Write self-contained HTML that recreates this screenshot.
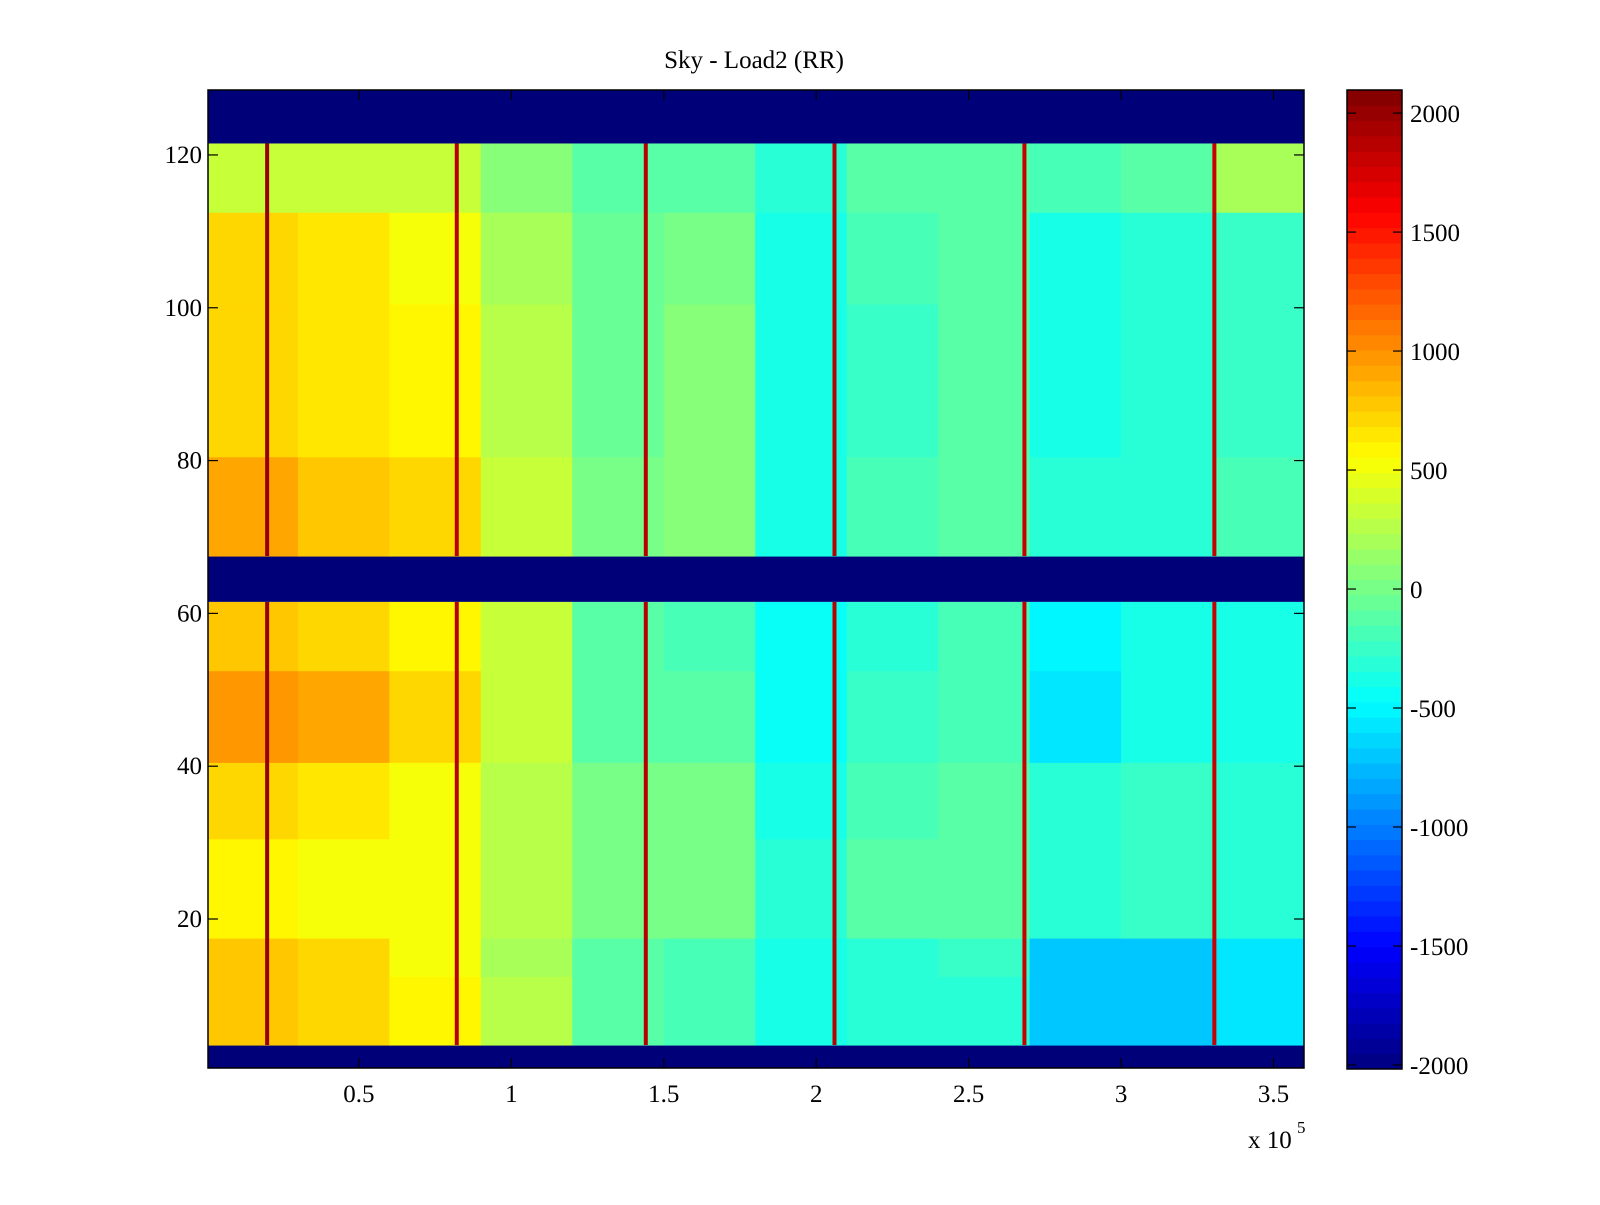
<!DOCTYPE html>
<html><head><meta charset="utf-8"><title>Sky - Load2 (RR)</title>
<style>
html,body{margin:0;padding:0;background:#fff;}
svg text{font-family:"Liberation Serif",serif;fill:#000;}
</style></head>
<body>
<svg id="chart" width="1600" height="1200" viewBox="0 0 1600 1200" xmlns="http://www.w3.org/2000/svg">
<rect width="1600" height="1200" fill="#fff"/>
<text x="754" y="68" font-size="25" text-anchor="middle">Sky - Load2 (RR)</text>
<g id="cells"></g>
<g id="lines"></g>
<g id="axes"></g>
<g id="cbar"></g>
</svg>
<script>
// ---- data ----
const xBlockEdges = [0, 0.3, 0.6, 0.9, 1.2, 1.5, 1.8, 2.1, 2.4, 2.7, 3.0, 3.3, 3.6];
const rowBandStart = [4, 13, 18, 31, 41, 53, 68, 81, 101, 113];
const rowBandEnd   = [12, 17, 30, 40, 52, 61, 80, 100, 112, 121];
const band0 = [800,700,600,250,-100,-200,-400,-300,-300,-700,-700,-600];
const band1 = [800,700,550,200,-100,-200,-400,-300,-250,-700,-700,-600];
const band2 = [600,550,500,250,0,0,-300,-150,-100,-300,-250,-300];
const band3 = [700,650,550,250,0,0,-350,-200,-100,-300,-250,-300];
const band4 = [1000,900,700,300,-100,-100,-450,-250,-200,-550,-400,-350];
const band5 = [800,700,600,300,-100,-200,-450,-300,-200,-500,-400,-350];
const band6 = [900,800,700,350,0,100,-350,-200,-150,-300,-300,-200];
const band7 = [700,650,600,250,-50,100,-400,-250,-150,-350,-300,-250];
const band8 = [700,650,500,200,-50,0,-350,-200,-100,-350,-300,-250];
const band9 = [350,300,300,100,-150,-100,-300,-150,-100,-200,-150,200];
const bandValues = [band0,band1,band2,band3,band4,band5,band6,band7,band8,band9];
const emptyBandStart = [1, 62, 122];
const emptyBandEnd   = [3, 67, 128];
const spikeX = [0.199, 0.821, 1.441, 2.060, 2.683, 3.306];
const spikeValue = [2000, 1900, 1900, 1900, 1800, 1800];
const xTicks = [0.5, 1, 1.5, 2, 2.5, 3, 3.5];
const xTickLabels = ["0.5","1","1.5","2","2.5","3","3.5"];
const yTicks = [20, 40, 60, 80, 100, 120];
const cTicks = [-2000,-1500,-1000,-500,0,500,1000,1500,2000];
const cMin = -2017, cMax = 2097;

// ---- scales ----
const L=208, R=1304, T=90, B=1068;
const xMin=0.005, xMax=3.6, yMin=0.5, yMax=128.5;
const xs = v => L + (v - xMin) / (xMax - xMin) * (R - L);
const ys = v => B - (v - yMin) / (yMax - yMin) * (B - T);
function jet(t){
  t = Math.max(0, Math.min(1, t));
  t = (Math.floor(t*64 - 1e-9) + 0.5) / 64;
  const r = Math.max(0, Math.min(1, Math.min(4*t-1.5, -4*t+4.5)));
  const g = Math.max(0, Math.min(1, Math.min(4*t-0.5, -4*t+3.5)));
  const b = Math.max(0, Math.min(1, Math.min(4*t+0.5, -4*t+2.5)));
  return `rgb(${Math.round(r*255)},${Math.round(g*255)},${Math.round(b*255)})`;
}
const cnorm = v => (v - cMin) / (cMax - cMin);
const NS = "http://www.w3.org/2000/svg";
function mk(tag, attrs, parent){
  const e = document.createElementNS(NS, tag);
  for (const k in attrs) e.setAttribute(k, attrs[k]);
  parent.appendChild(e); return e;
}
const cells = document.getElementById('cells');
for (let i=0;i<emptyBandStart.length;i++){
  const r = mk('rect',{x:L,y:ys(emptyBandEnd[i]+0.5),width:R-L,height:ys(emptyBandStart[i]-0.5)-ys(emptyBandEnd[i]+0.5),fill:jet(0)},cells);
  
  
}
for (let b=0;b<bandValues.length;b++){
  for (let j=0;j<xBlockEdges.length-1;j++){
    const x0 = Math.max(xs(xBlockEdges[j]), L), x1 = xs(xBlockEdges[j+1]);
    const r = mk('rect',{x:x0,y:ys(rowBandEnd[b]+0.5),width:x1-x0+0.5,height:ys(rowBandStart[b]-0.5)-ys(rowBandEnd[b]+0.5)+0.5,fill:jet(cnorm(bandValues[b][j]))},cells);
    
    
  }
}
const lines = document.getElementById('lines');
for (let i=0;i<spikeX.length;i++){
  for (const seg of [[4,61],[68,121]]){
    const r = mk('rect',{x:xs(spikeX[i])-2,y:ys(seg[1]+0.5),width:4,height:ys(seg[0]-0.5)-ys(seg[1]+0.5),fill:jet(cnorm(spikeValue[i]))},lines);
    
    
  }
}
const ax = document.getElementById('axes');
mk('rect',{x:L,y:T,width:R-L,height:B-T,fill:'none',stroke:'#000','stroke-width':1.5},ax);
xTicks.forEach((v,i)=>{
  const x = xs(v);
  mk('line',{x1:x,y1:B,x2:x,y2:B-10,stroke:'#000','stroke-width':1.2},ax);
  mk('line',{x1:x,y1:T,x2:x,y2:T+10,stroke:'#000','stroke-width':1.2},ax);
  const t = mk('text',{x:x,y:B+34,'font-size':25,'text-anchor':'middle'},ax);
  t.textContent = xTickLabels[i];
  
  
});
yTicks.forEach(v=>{
  const y = ys(v);
  mk('line',{x1:L,y1:y,x2:L+10,y2:y,stroke:'#000','stroke-width':1.2},ax);
  mk('line',{x1:R,y1:y,x2:R-10,y2:y,stroke:'#000','stroke-width':1.2},ax);
  const t = mk('text',{x:L-6,y:y+8,'font-size':25,'text-anchor':'end'},ax);
  t.textContent = String(v);
  
  
});
const ex = mk('text',{x:1248,y:1148,'font-size':25},ax);
ex.textContent = 'x 10';


const ex5 = mk('text',{x:1297,y:1133,'font-size':17},ax);
ex5.textContent = '5';


const cb = document.getElementById('cbar');
const CL=1347, CR=1402, CT=90, CB=1069;
const cys = v => CB - (v - cMin)/(cMax - cMin)*(CB-CT);
for (let k=0;k<64;k++){
  const y0 = CB - (k+1)/64*(CB-CT), y1 = CB - k/64*(CB-CT);
  const r = mk('rect',{x:CL,y:y0,width:CR-CL,height:y1-y0+0.5,fill:jet((k+0.5)/64)},cb);
  
  
}
mk('rect',{x:CL,y:CT,width:CR-CL,height:CB-CT,fill:'none',stroke:'#000','stroke-width':1.5},cb);
cTicks.forEach(v=>{
  const y = cys(v);
  mk('line',{x1:CL,y1:y,x2:CL+9,y2:y,stroke:'#000','stroke-width':1.2},cb);
  mk('line',{x1:CR,y1:y,x2:CR-9,y2:y,stroke:'#000','stroke-width':1.2},cb);
  const t = mk('text',{x:1410,y:y+9,'font-size':25},cb);
  t.textContent = String(v);
  
  
});
</script>
</body></html>
